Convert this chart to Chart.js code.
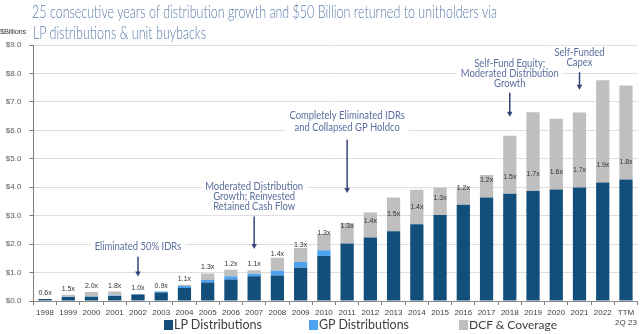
<!DOCTYPE html>
<html><head><meta charset="utf-8">
<script src="https://cdn.jsdelivr.net/npm/chart.js@4.4.0/dist/chart.umd.min.js"></script>
<style>
html,body{margin:0;padding:0;background:#fff;width:640px;height:334px;overflow:hidden;}
#wrap{position:relative;width:640px;height:334px;}
#c{position:absolute;left:0;top:0;}
.title{position:absolute;left:32px;font-family:Lato,'Open Sans',sans-serif;font-weight:300;font-size:17px;color:#5d7dab;white-space:nowrap;transform-origin:0 0;line-height:1;}
#unit{position:absolute;left:0px;top:27px;font-family:'Liberation Sans',Arial,sans-serif;font-size:7.5px;color:#404040;letter-spacing:-0.2px;}
.leg{position:absolute;top:318px;height:14px;font-family:Lato,'Liberation Sans',sans-serif;color:#404040;display:flex;align-items:center;white-space:nowrap;line-height:1;}
.sw{display:inline-block;width:9px;height:10px;margin-right:1px;flex:none;}
.lt{font-size:13.5px;display:inline-block;}
</style></head>
<body><div id="wrap">
<canvas id="c" width="640" height="334"></canvas>
<div class="title" id="t1" style="top:3px">25 consecutive years of distribution growth and $50 Billion returned to unitholders via</div>
<div class="title" id="t2" style="top:24px;left:33px">LP distributions &amp; unit buybacks</div>
<div id="unit">$Billions</div>
<div class="leg" style="left:164px"><span class="sw" style="background:#124f7b"></span><span class="lt" data-w="88">LP Distributions</span></div>
<div class="leg" style="left:309px"><span class="sw" style="background:#4da3ef"></span><span class="lt" data-w="90">GP Distributions</span></div>
<div class="leg" style="left:459px"><span class="sw" style="background:#bfbfbf"></span><span class="lt" data-w="88">DCF &amp; Coverage</span></div>
</div>
<script>
const categories = ['1998','1999','2000','2001','2002','2003','2004','2005','2006','2007','2008','2009','2010','2011','2012','2013','2014','2015','2016','2017','2018','2019','2020','2021','2022',['TTM','2Q 23']];
const lpDistributions = [0.07,0.14,0.15,0.18,0.23,0.30,0.46,0.65,0.76,0.87,0.90,1.17,1.58,2.02,2.23,2.45,2.70,3.02,3.38,3.64,3.77,3.87,3.92,3.99,4.17,4.27];
const gpDistributions = [0.00,0.01,0.01,0.01,0.01,0.03,0.07,0.09,0.11,0.09,0.16,0.20,0.20,0,0,0,0,0,0,0,0,0,0,0,0,0];
const dcfTotal = [0.04,0.22,0.32,0.33,0.24,0.31,0.57,0.97,1.10,1.08,1.52,1.86,2.36,2.74,3.11,3.64,3.91,3.99,4.02,4.43,5.81,6.64,6.41,6.63,7.76,7.58];
const coverageLabels = ['0.6x','1.5x','2.0x','1.8x','1.0x','0.9x','1.1x','1.3x','1.2x','1.1x','1.4x','1.3x','1.3x','1.3x','1.4x','1.5x','1.4x','1.3x','1.2x','1.2x','1.5x','1.7x','1.6x','1.7x','1.9x','1.8x'];
const yTickLabels = ['$0.0','$1.0','$2.0','$3.0','$4.0','$5.0','$6.0','$7.0','$8.0','$9.0'];
const notes = [
  {index:4,  lines:['Eliminated 50% IDRs'], textAt:1.91, lineGap:10, arrowFrom:1.56, arrowTo:0.86},
  {index:9,  lines:['Moderated Distribution','Growth; Reinvested','Retained Cash Flow'], textAt:3.66, lineGap:9.8, arrowFrom:2.97, arrowTo:1.83},
  {index:13, lines:['Completely Eliminated IDRs','and Collapsed GP Holdco'], textAt:6.30, lineGap:12.5, arrowFrom:5.67, arrowTo:3.80},
  {index:20, lines:['Self-Fund Equity;','Moderated Distribution','Growth'], textAt:8.0, lineGap:9.7, arrowFrom:7.32, arrowTo:6.48},
  {index:23, lines:['Self-Funded','Capex'], textAt:8.55, lineGap:10, arrowFrom:8.04, arrowTo:7.43}
];

const dcfExcess = dcfTotal.map((t,i)=>Math.max(0, +(t - lpDistributions[i] - gpDistributions[i]).toFixed(2)));

const coveragePlugin = {
  id:'coverage',
  afterDatasetsDraw(chart){
    const ctx = chart.ctx, xs = chart.scales.x, ys = chart.scales.y;
    ctx.save();
    ctx.font = '7px "Liberation Sans", Arial, sans-serif';
    ctx.fillStyle = '#333333';
    ctx.textAlign = 'center';
    ctx.textBaseline = 'middle';
    coverageLabels.forEach((lab,i)=>{
      const x = xs.getPixelForValue(i);
      const dist = lpDistributions[i] + gpDistributions[i];
      const base = ys.getPixelForValue(dist);
      const top = ys.getPixelForValue(Math.max(dcfTotal[i], dist));
      const y = Math.max(base - 17, top - 6);
      ctx.fillText(lab, x, y);
    });
    ctx.restore();
  }
};

const notesPlugin = {
  id:'notes',
  beforeDatasetsDraw(chart){
    const ctx = chart.ctx, xs = chart.scales.x, ys = chart.scales.y;
    ctx.save();
    ctx.font = '10.5px Lato, "Liberation Sans", sans-serif';
    ctx.textAlign = 'center';
    ctx.textBaseline = 'middle';
    const condense = 0.9;
    notes.forEach(n=>{
      const x = xs.getPixelForValue(n.index);
      const yc = ys.getPixelForValue(n.textAt);
      const count = n.lines.length;
      const widths = n.lines.map(l=>ctx.measureText(l).width*condense);
      const w = Math.max(...widths) + 8;
      const h = count*n.lineGap + 4;
      ctx.fillStyle = '#ffffff';
      ctx.fillRect(x - w/2, yc - h/2, w, h);
      ctx.fillStyle = '#5b6e9e';
      n.lines.forEach((l,k)=>{
        const y = yc + (k - (count-1)/2)*n.lineGap;
        ctx.fillText(l, x, y, widths[k]);
      });
      const y1 = ys.getPixelForValue(n.arrowFrom), y2 = ys.getPixelForValue(n.arrowTo);
      ctx.strokeStyle = '#34447a';
      ctx.fillStyle = '#34447a';
      ctx.lineWidth = 1.5;
      ctx.beginPath(); ctx.moveTo(x, y1); ctx.lineTo(x, y2 - 4); ctx.stroke();
      ctx.beginPath(); ctx.moveTo(x-2.8, y2-5); ctx.lineTo(x+2.8, y2-5); ctx.lineTo(x, y2); ctx.closePath(); ctx.fill();
    });
    ctx.restore();
  }
};

new Chart(document.getElementById('c'), {
  type:'bar',
  data:{
    labels:categories,
    datasets:[
      {label:'LP Distributions', data:lpDistributions, backgroundColor:'#124f7b'},
      {label:'GP Distributions', data:gpDistributions, backgroundColor:'#4da3ef'},
      {label:'DCF & Coverage', data:dcfExcess, backgroundColor:'#bfbfbf'}
    ]
  },
  options:{
    responsive:false, animation:false,
    layout:{padding:{top:45,right:2.4,left:0,bottom:0}},
    datasets:{bar:{categoryPercentage:1, barPercentage:0.57, borderWidth:0}},
    plugins:{legend:{display:false}, tooltip:{enabled:false}},
    scales:{
      x:{stacked:true, offset:true,
        grid:{display:true, drawOnChartArea:false, drawTicks:true, tickLength:4, tickColor:'#7f7f7f', offset:true},
        border:{display:true, color:'#8c8c8c'},
        ticks:{color:'#404040', font:{size:8, family:'"Liberation Sans", Arial, sans-serif'}, autoSkip:false, maxRotation:0, minRotation:0, padding:3},
        afterFit(s){ s.height = 33; }
      },
      y:{stacked:true, min:0, max:9,
        grid:{color:'#dedede', tickLength:4, tickColor:'#7f7f7f', drawTicks:true},
        border:{display:true, color:'#7f7f7f'},
        ticks:{stepSize:1, color:'#595959', font:{size:8, family:'"Liberation Sans", Arial, sans-serif'}, padding:8,
          callback:(v,i)=>yTickLabels[i]},
        afterFit(s){ s.width = 33.4; }
      }
    }
  },
  plugins:[notesPlugin, coveragePlugin]
});

// fit title lines and legend texts to the reference widths
(function(){
  const t1 = document.getElementById('t1'), t2 = document.getElementById('t2');
  const k = 465 / t1.getBoundingClientRect().width;
  t1.style.transform = 'scaleX(' + k + ')';
  t2.style.transform = 'scaleX(' + k + ')';
  document.querySelectorAll('.lt').forEach(el=>{
    const target = +el.dataset.w;
    const w = el.getBoundingClientRect().width;
    const fs = Math.min(15, Math.max(11, 13.5 * target / w));
    el.style.fontSize = fs + 'px';
    const w2 = el.getBoundingClientRect().width;
    el.style.transformOrigin = '0 50%';
    el.style.transform = 'scaleX(' + (target / w2) + ')';
  });
})();
</script>
</body></html>
